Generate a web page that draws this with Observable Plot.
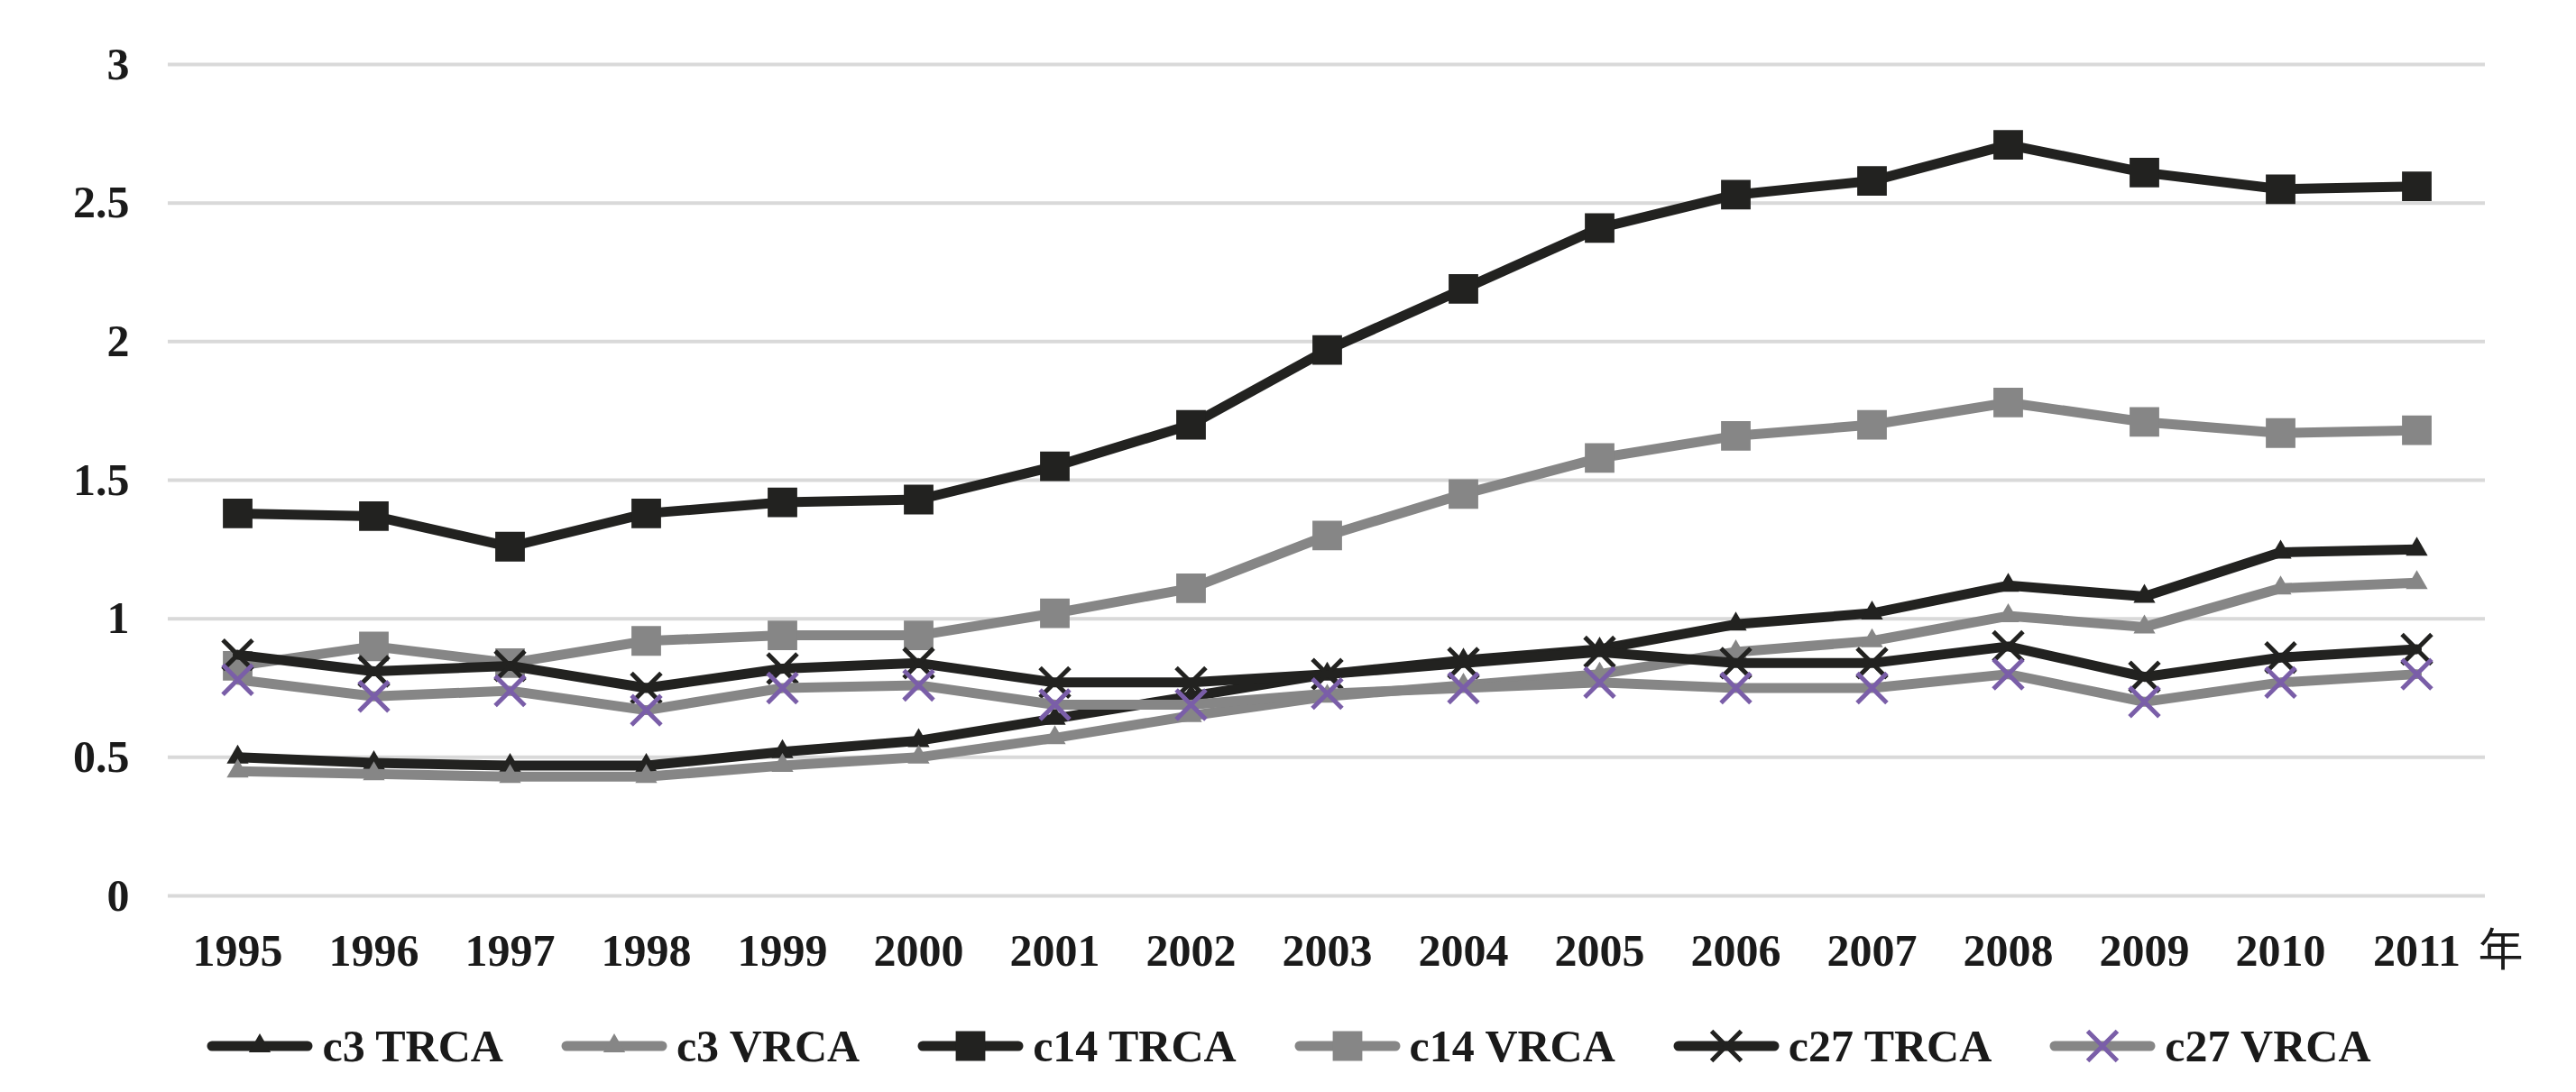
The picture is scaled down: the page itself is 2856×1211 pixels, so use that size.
<!DOCTYPE html>
<html>
<head>
<meta charset="utf-8">
<script src="https://cdn.jsdelivr.net/npm/d3@7"></script>
<script src="https://cdn.jsdelivr.net/npm/@observablehq/plot@0.6"></script>
<style>
  html, body { margin: 0; padding: 0; background: #fff; }
  #legend { display: flex; justify-content: center; align-items: center; height: 100px;
    font-family: "Liberation Serif", "Times New Roman", serif; font-weight: bold; font-size: 50px; color: #1a1a1a; }
  .item { display: flex; align-items: center; margin: 0 31px; }
  .item span { margin-left: 8px; }
</style>
</head>
<body>
<div id="chart"></div>
<div id="legend"></div>
<script>
const years = ["1995","1996","1997","1998","1999","2000","2001","2002","2003","2004","2005","2006","2007","2008","2009","2010","2011"];
const yTicks = [0, 0.5, 1, 1.5, 2, 2.5, 3];
const seriesNames = ["c3 TRCA", "c3 VRCA", "c14 TRCA", "c14 VRCA", "c27 TRCA", "c27 VRCA"];
const c3TRCA  = [0.50,0.48,0.47,0.47,0.52,0.56,0.64,0.72,0.80,0.85,0.89,0.98,1.02,1.12,1.08,1.24,1.25];
const c3VRCA  = [0.45,0.44,0.43,0.43,0.47,0.50,0.57,0.65,0.72,0.76,0.80,0.88,0.92,1.01,0.97,1.11,1.13];
const c14TRCA = [1.38,1.37,1.26,1.38,1.42,1.43,1.55,1.70,1.97,2.19,2.41,2.53,2.58,2.71,2.61,2.55,2.56];
const c14VRCA = [0.83,0.90,0.84,0.92,0.94,0.94,1.02,1.11,1.30,1.45,1.58,1.66,1.70,1.78,1.71,1.67,1.68];
const c27TRCA = [0.87,0.81,0.83,0.75,0.82,0.84,0.77,0.77,0.80,0.84,0.88,0.84,0.84,0.90,0.79,0.86,0.89];
const c27VRCA = [0.78,0.72,0.74,0.67,0.75,0.76,0.69,0.69,0.73,0.75,0.77,0.75,0.75,0.80,0.70,0.77,0.80];
const axisUnit = "年";

const BLACK = "#222220", GRAY = "#868686", PURPLE = "#7a5ea8", GRID = "#d9d9d9";
const styles = [
  {line: BLACK, symbol: "triangle", fill: BLACK, stroke: "none", r: 9, sw: 0},
  {line: GRAY,  symbol: "triangle", fill: GRAY,  stroke: "none", r: 9, sw: 0},
  {line: BLACK, symbol: "square",   fill: BLACK, stroke: "none", r: 18.5, sw: 0},
  {line: GRAY,  symbol: "square",   fill: GRAY,  stroke: "none", r: 18.5, sw: 0},
  {line: BLACK, symbol: "times",    fill: "none", stroke: BLACK, r: 15, sw: 5},
  {line: GRAY,  symbol: "times",    fill: "none", stroke: PURPLE, r: 15, sw: 5}
];
const values = [c3TRCA, c3VRCA, c14TRCA, c14VRCA, c27TRCA, c27VRCA];
const tables = values.map((vals, i) => vals.map((v, j) => ({year: years[j], value: v, series: seriesNames[i]})));

const marks = [Plot.ruleY(yTicks, {stroke: GRID, strokeWidth: 4})];
tables.forEach((t, i) => {
  const s = styles[i];
  marks.push(Plot.line(t, {x: "year", y: "value", stroke: s.line, strokeWidth: 11, strokeLinejoin: "round", strokeLinecap: "round"}));
  marks.push(Plot.dot(t, {x: "year", y: "value", symbol: s.symbol, r: s.r, fill: s.fill, stroke: s.stroke, strokeWidth: s.sw}));
});
marks.push(Plot.text([axisUnit], {frameAnchor: "bottom-right", textAnchor: "start", lineAnchor: "middle", dx: -8, dy: 61,
  fontFamily: "Noto Sans CJK SC", fontWeight: "normal", fontSize: 50, fill: "#1a1a1a"}));

const chart = Plot.plot({
  width: 2856, height: 1110,
  marginTop: 71, marginBottom: 117, marginLeft: 186, marginRight: 101,
  style: {fontFamily: "Liberation Serif, Times New Roman, serif", fontSize: "50px", fontWeight: "bold", color: "#1a1a1a", background: "#fff"},
  x: {type: "point", domain: years, padding: 0.5, tickSize: 0, tickPadding: 42, label: null},
  y: {domain: [0, 3], ticks: yTicks, tickFormat: d => String(d), tickSize: 0, tickPadding: 43, label: null},
  marks
});
document.getElementById("chart").appendChild(chart);

// legend
const legend = d3.select("#legend");
seriesNames.forEach((name, i) => {
  const s = styles[i];
  const item = legend.append("div").attr("class", "item");
  const svg = item.append("svg").attr("width", 122).attr("height", 50);
  svg.append("line").attr("x1", 8).attr("x2", 114).attr("y1", 25).attr("y2", 25)
    .attr("stroke", s.line).attr("stroke-width", 11).attr("stroke-linecap", "round");
  const symType = {triangle: d3.symbolTriangle, square: d3.symbolSquare, times: d3.symbolTimes}[s.symbol];
  svg.append("path").attr("transform", "translate(61,25)")
    .attr("d", d3.symbol(symType, Math.PI * s.r * s.r)())
    .attr("fill", s.fill).attr("stroke", s.stroke === "none" ? null : s.stroke).attr("stroke-width", s.sw);
  item.append("span").text(name);
});
</script>
</body>
</html>
